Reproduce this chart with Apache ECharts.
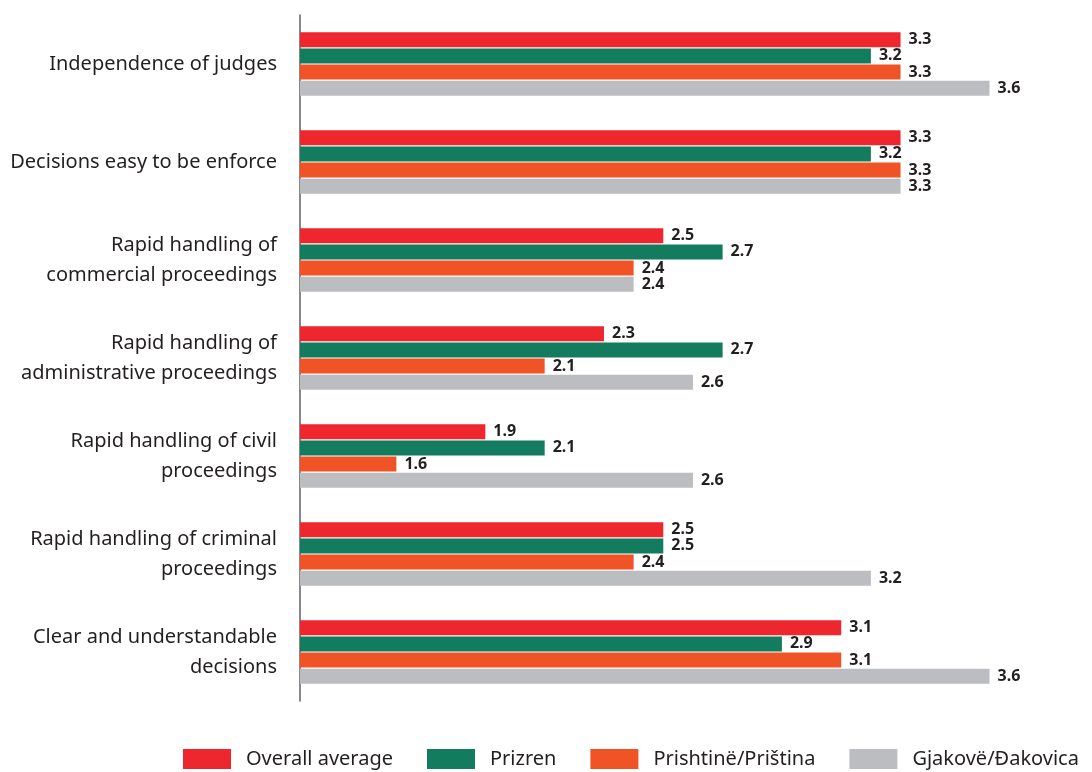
<!DOCTYPE html>
<html>
<head>
<meta charset="utf-8">
<script src="https://cdn.jsdelivr.net/npm/echarts@6/dist/echarts.min.js"></script>
<style>
  html, body { margin: 0; padding: 0; background: #ffffff; }
  #chart { width: 1092px; height: 772px; }
</style>
</head>
<body>
<div id="chart"></div>
<script>
// Court performance ratings by region
const categories = [
  'Independence of judges',
  'Decisions easy to be enforce',
  'Rapid handling of\ncommercial proceedings',
  'Rapid handling of\nadministrative proceedings',
  'Rapid handling of civil\nproceedings',
  'Rapid handling of criminal\nproceedings',
  'Clear and understandable\ndecisions'
];
const seriesNames = ['Overall average', 'Prizren', 'Prishtinë/Priština', 'Gjakovë/Đakovica'];
const overallAverage = [3.3, 3.3, 2.5, 2.3, 1.9, 2.5, 3.1];
const prizren        = [3.2, 3.2, 2.7, 2.7, 2.1, 2.5, 2.9];
const prishtina      = [3.3, 3.3, 2.4, 2.1, 1.6, 2.4, 3.1];
const gjakova        = [3.6, 3.3, 2.4, 2.6, 2.6, 3.2, 3.6];
const seriesValues = [overallAverage, prizren, prishtina, gjakova];
const colors = ['#ee262d', '#137b5e', '#f05426', '#bcbdc0'];

// value range of the horizontal axis (not labelled)
const axisMin = 1.275;
const axisMax = 3.75;

const chart = echarts.init(document.getElementById('chart'), null, { renderer: 'canvas' });

const font = '"Noto Sans", "Open Sans", sans-serif';

const option = {
  animation: false,
  backgroundColor: '#ffffff',
  grid: { left: 300, top: 15, bottom: 71, right: 58, containLabel: false },
  legend: {
    top: 749,
    left: 183,
    right: 0,
    padding: 0,
    itemWidth: 48,
    itemHeight: 20,
    itemGap: 34,
    icon: 'rect',
    data: seriesNames,
    textStyle: {
      fontFamily: font,
      fontSize: 20,
      color: '#231f20',
      padding: [0, 0, 0, 10]
    }
  },
  xAxis: {
    type: 'value',
    min: axisMin,
    max: axisMax,
    axisLine: { show: false },
    axisTick: { show: false },
    axisLabel: { show: false },
    splitLine: { show: false }
  },
  yAxis: {
    type: 'category',
    inverse: true,
    data: categories,
    axisLine: { show: true, lineStyle: { color: '#5f5f5f', width: 1.5 } },
    axisTick: { show: false },
    axisLabel: {
      margin: 23,
      fontFamily: font,
      fontSize: 20,
      lineHeight: 30,
      color: '#231f20',
      align: 'right'
    }
  },
  series: seriesNames.map((name, i) => ({
    name: name,
    type: 'bar',
    data: seriesValues[i],
    barWidth: 15,
    barGap: '8%',
    itemStyle: { color: colors[i] },
    label: {
      show: true,
      position: 'right',
      distance: 8,
      formatter: p => p.value.toFixed(1),
      fontFamily: font,
      fontSize: 16,
      fontWeight: 'bold',
      color: '#231f20'
    }
  }))
};

chart.setOption(option);
</script>
</body>
</html>
